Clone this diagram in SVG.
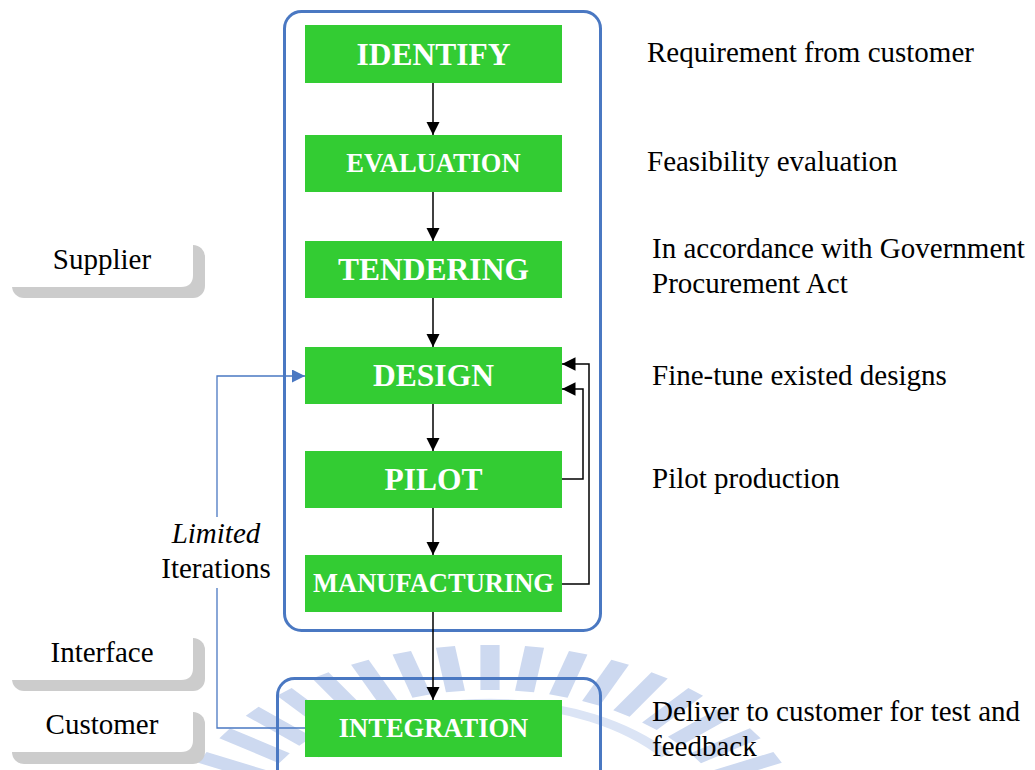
<svg xmlns="http://www.w3.org/2000/svg" width="1035" height="770" viewBox="0 0 1035 770">
  <defs>
    <style>
      .box { fill: #33cc33; }
      .lbl { font-family: "Liberation Serif", "Times New Roman", serif; font-weight: bold; fill: #ffffff; text-anchor: middle; }
      .big { font-size: 31.5px; }
      .small { font-size: 26.5px; }
      .note { font-family: "Liberation Serif", "Times New Roman", serif; font-size: 29px; fill: #000000; }
      .tabtxt { font-family: "Liberation Serif", "Times New Roman", serif; font-size: 29px; fill: #000000; text-anchor: middle; }
      .frame { fill: none; stroke: #4a78c2; stroke-width: 3; }
      .flow { fill: none; stroke: #000000; stroke-width: 1.5; }
      .loop { fill: none; stroke: #4a78c2; stroke-width: 1.3; }
      .shadow { fill: #cccccc; }
      .tab { fill: #ffffff; }
      .wm { fill: #cdd9f0; }
    </style>
    <marker id="arrowBlack" viewBox="0 0 10 10" refX="10" refY="5" markerWidth="9" markerHeight="9" markerUnits="strokeWidth" orient="auto">
      <path d="M0,0 L10,5 L0,10 Z" fill="#000000"/>
    </marker>
    <marker id="arrowBlue" viewBox="0 0 10 10" refX="10" refY="5" markerWidth="10" markerHeight="10" markerUnits="strokeWidth" orient="auto">
      <path d="M0,0 L10,5 L0,10 Z" fill="#4a78c2"/>
    </marker>
  </defs>

  <rect width="1035" height="770" fill="#ffffff"/>

  <!-- faint background emblem -->
  <g id="emblem">
    <g transform="translate(490,845) scale(1.6,1)">
      <rect class="wm" x="-6" y="-200" width="12" height="45" transform="rotate(-72)"/>
      <rect class="wm" x="-6" y="-200" width="12" height="45" transform="rotate(-64)"/>
      <rect class="wm" x="-6" y="-200" width="12" height="45" transform="rotate(-56)"/>
      <rect class="wm" x="-6" y="-200" width="12" height="45" transform="rotate(-48)"/>
      <rect class="wm" x="-6" y="-200" width="12" height="45" transform="rotate(-40)"/>
      <rect class="wm" x="-6" y="-200" width="12" height="45" transform="rotate(-32)"/>
      <rect class="wm" x="-6" y="-200" width="12" height="45" transform="rotate(-24)"/>
      <rect class="wm" x="-6" y="-200" width="12" height="45" transform="rotate(-16)"/>
      <rect class="wm" x="-6" y="-200" width="12" height="45" transform="rotate(-8)"/>
      <rect class="wm" x="-6" y="-200" width="12" height="45"/>
      <rect class="wm" x="-6" y="-200" width="12" height="45" transform="rotate(8)"/>
      <rect class="wm" x="-6" y="-200" width="12" height="45" transform="rotate(16)"/>
      <rect class="wm" x="-6" y="-200" width="12" height="45" transform="rotate(24)"/>
      <rect class="wm" x="-6" y="-200" width="12" height="45" transform="rotate(32)"/>
      <rect class="wm" x="-6" y="-200" width="12" height="45" transform="rotate(40)"/>
      <rect class="wm" x="-6" y="-200" width="12" height="45" transform="rotate(48)"/>
      <rect class="wm" x="-6" y="-200" width="12" height="45" transform="rotate(56)"/>
      <rect class="wm" x="-6" y="-200" width="12" height="45" transform="rotate(64)"/>
      <rect class="wm" x="-6" y="-200" width="12" height="45" transform="rotate(72)"/>
      <path d="M-110,-90 A142,142 0 0 1 110,-90" fill="none" stroke="#dbe4f5" stroke-width="8"/>
    </g>
  </g>

  <!-- group frames -->
  <g id="frames">
    <rect class="frame" x="284.5" y="11.5" width="316" height="619" rx="17"/>
    <rect class="frame" x="277.5" y="678.5" width="323" height="110" rx="17"/>
  </g>

  <!-- side tabs -->
  <g id="supplier">
    <rect class="shadow" x="12" y="245" width="193" height="53" rx="12"/>
    <path class="tab" d="M0,230 H193 V275 Q193,287 181,287 H0 Z"/>
    <text class="tabtxt" x="102" y="269">Supplier</text>
  </g>
  <g id="interface">
    <rect class="shadow" x="12" y="638" width="193" height="53" rx="12"/>
    <path class="tab" d="M0,625 H193 V668 Q193,680 181,680 H0 Z"/>
    <text class="tabtxt" x="102" y="662">Interface</text>
  </g>
  <g id="customer">
    <rect class="shadow" x="12" y="712" width="193" height="52" rx="12"/>
    <path class="tab" d="M0,700 H193 V740 Q193,752 181,752 H0 Z"/>
    <text class="tabtxt" x="102" y="734">Customer</text>
  </g>

  <!-- connectors -->
  <g id="connectors">
    <line class="flow" x1="433" y1="83" x2="433" y2="135" marker-end="url(#arrowBlack)"/>
    <line class="flow" x1="433" y1="192" x2="433" y2="241" marker-end="url(#arrowBlack)"/>
    <line class="flow" x1="433" y1="298" x2="433" y2="347" marker-end="url(#arrowBlack)"/>
    <line class="flow" x1="433" y1="404" x2="433" y2="451" marker-end="url(#arrowBlack)"/>
    <line class="flow" x1="433" y1="508" x2="433" y2="555" marker-end="url(#arrowBlack)"/>
    <line class="flow" x1="433" y1="612" x2="433" y2="700" marker-end="url(#arrowBlack)"/>
    <polyline class="flow" points="562,479 583,479 583,389 562,389" marker-end="url(#arrowBlack)"/>
    <polyline class="flow" points="562,584 589,584 589,364 562,364" marker-end="url(#arrowBlack)"/>
    <polyline class="loop" points="217,588 217,728 305,728"/>
    <polyline class="loop" points="217,517 217,376 305,376" marker-end="url(#arrowBlue)"/>
  </g>

  <!-- process steps -->
  <g id="identify">
    <rect class="box" x="305" y="25" width="257" height="58"/>
    <text class="lbl big" x="433.5" y="64.5">IDENTIFY</text>
  </g>
  <g id="evaluation">
    <rect class="box" x="305" y="135" width="257" height="57"/>
    <text class="lbl small" x="433.5" y="172">EVALUATION</text>
  </g>
  <g id="tendering">
    <rect class="box" x="305" y="241" width="257" height="57"/>
    <text class="lbl big" x="433.5" y="280">TENDERING</text>
  </g>
  <g id="design">
    <rect class="box" x="305" y="347" width="257" height="57"/>
    <text class="lbl big" x="433.5" y="386">DESIGN</text>
  </g>
  <g id="pilot">
    <rect class="box" x="305" y="451" width="257" height="57"/>
    <text class="lbl big" x="433.5" y="490">PILOT</text>
  </g>
  <g id="manufacturing">
    <rect class="box" x="305" y="555" width="257" height="57"/>
    <text class="lbl small" x="433.5" y="592">MANUFACTURING</text>
  </g>
  <g id="integration">
    <rect class="box" x="305" y="700" width="257" height="57"/>
    <text class="lbl small" x="433.5" y="737">INTEGRATION</text>
  </g>

  <!-- loop label -->
  <g id="loop-label">
    <text class="tabtxt" x="216" y="543" font-style="italic">Limited</text>
    <text class="tabtxt" x="216" y="578">Iterations</text>
  </g>

  <!-- step descriptions -->
  <g id="notes">
    <text class="note" x="647" y="62">Requirement from customer</text>
    <text class="note" x="647" y="171">Feasibility evaluation</text>
    <text class="note" x="652" y="258">In accordance with Government</text>
    <text class="note" x="652" y="293">Procurement Act</text>
    <text class="note" x="652" y="385">Fine-tune existed designs</text>
    <text class="note" x="652" y="488">Pilot production</text>
    <text class="note" x="652" y="721">Deliver to customer for test and</text>
    <text class="note" x="652" y="756">feedback</text>
  </g>
</svg>
